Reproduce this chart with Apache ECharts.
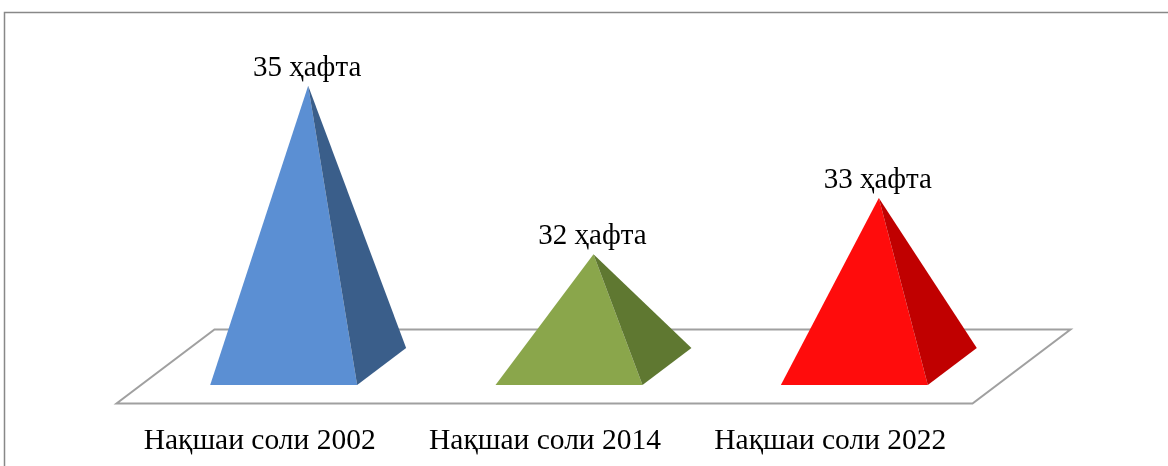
<!DOCTYPE html>
<html>
<head>
<meta charset="utf-8">
<script src="https://cdn.jsdelivr.net/npm/echarts@6/dist/echarts.min.js"></script>
<style>
  html, body { margin: 0; padding: 0; background: #fff; }
  #chart { width: 1168px; height: 466px; }
</style>
</head>
<body>
<div id="chart"></div>
<script>
const categories = ['Нақшаи соли 2002', 'Нақшаи соли 2014', 'Нақшаи соли 2022']
const weeks = [35, 32, 33]
const unit = 'ҳафта'
const frontColors = ['#5b8fd3', '#8aa64b', '#ff0c0c']
const sideColors = ['#3a5e8a', '#5f7831', '#c00000']
const baseValue = 30

const chart = echarts.init(document.getElementById('chart'))

// pyramid geometry: width share of the band, depth shift of the back corners
function geom(api) {
    const w = api.size([1, 0])[0] * 0.515
    return { w, dx: w / 3, dy: -w * 0.252 }
}

function renderFloor(params, api) {
    const cs = params.coordSys
    const { dx, dy } = geom(api)
    const left = cs.x, right = cs.x + cs.width, bottom = cs.y + cs.height
    const pts = [
        [left - dx / 2, bottom - dy / 2],
        [right - dx / 2, bottom - dy / 2],
        [right + dx * 1.5, bottom + dy * 1.5],
        [left + dx * 1.5, bottom + dy * 1.5]
    ]
    return {
        type: 'polygon',
        shape: { points: pts },
        style: { fill: '#fff', stroke: '#a0a0a0', lineWidth: 2 }
    }
}

function renderPyramid(params, api) {
    const idx = api.value(0)
    const val = api.value(1)
    const base = api.coord([idx, baseValue])
    const top = api.coord([idx, val])
    const { w, dx, dy } = geom(api)
    const fl = [base[0] - w / 2, base[1]]
    const fr = [base[0] + w / 2, base[1]]
    const br = [fr[0] + dx, fr[1] + dy]
    const apex = [base[0] + dx / 2, top[1] + dy / 2]
    return {
        type: 'group',
        children: [
            { type: 'polygon', shape: { points: [fl, fr, apex] }, style: { fill: frontColors[idx] } },
            { type: 'polygon', shape: { points: [fr, br, apex] }, style: { fill: sideColors[idx] } },
            {
                type: 'text',
                x: apex[0] - 1,
                y: apex[1] - 3,
                style: {
                    text: val + ' ' + unit,
                    align: 'center',
                    verticalAlign: 'bottom',
                    fill: '#000',
                    font: '29px "Liberation Serif"'
                }
            }
        ]
    }
}

const option = {
    backgroundColor: '#fff',
    animation: false,
    graphic: [{
        type: 'rect',
        shape: { x: 4.5, y: 12.5, width: 1200, height: 500 },
        style: { fill: 'none', stroke: '#888', lineWidth: 1.5 },
        silent: true
    }],
    grid: { left: 141, right: 171, top: 48, bottom: 81 },
    xAxis: {
        type: 'category',
        data: categories,
        axisLine: { show: false },
        axisTick: { show: false },
        axisLabel: {
            interval: 0,
            hideOverlap: false,
            margin: 41,
            padding: [0, 48, 0, 0],
            fontFamily: 'Liberation Serif',
            fontSize: 29.5,
            color: '#000'
        }
    },
    yAxis: {
        type: 'value',
        min: baseValue,
        max: 36,
        show: false
    },
    series: [
        {
            type: 'custom',
            clip: false,
            silent: true,
            renderItem: renderFloor,
            data: [[0, baseValue]]
        },
        {
            type: 'custom',
            clip: false,
            renderItem: renderPyramid,
            data: weeks.map((v, i) => [i, v])
        }
    ]
}
chart.setOption(option)
</script>
</body>
</html>
